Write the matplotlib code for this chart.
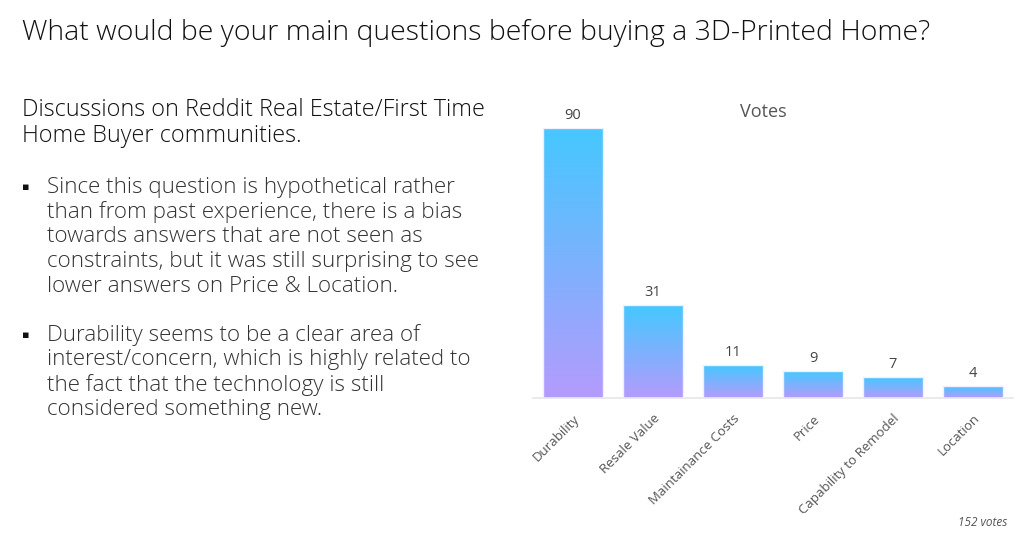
import matplotlib.pyplot as plt
import numpy as np
from matplotlib.colors import LinearSegmentedColormap

# data
categories = ['Durability', 'Resale Value', 'Maintainance Costs', 'Price',
              'Capability to Remodel', 'Location']
votes = [90, 31, 11, 9, 7, 4]
total_votes = 152

title = 'What would be your main questions before buying a 3D-Printed Home?'
intro_lines = ['Discussions on Reddit Real Estate/First Time',
               'Home Buyer communities.']
bullet1 = ['Since this question is hypothetical rather',
           'than from past experience, there is a bias',
           'towards answers that are not seen as',
           'constraints, but it was still surprising to see',
           'lower answers on Price & Location.']
bullet2 = ['Durability seems to be a clear area of',
           'interest/concern, which is highly related to',
           'the fact that the technology is still',
           'considered something new.']

plt.rcParams['font.family'] = ['Open Sans', 'DejaVu Sans']

W, H = 1024, 545
fig = plt.figure(figsize=(W / 100, H / 100), dpi=100)
fig.patch.set_facecolor('white')

def fx(px):
    return px / W

def fy(py):
    return 1 - py / H

# title and left-hand text
fig.text(fx(22), fy(33), title, fontsize=20.5, color='#111111', va='center',
         fontweight='light')
for i, line in enumerate(intro_lines):
    fig.text(fx(22), fy(110 + i * 26), line, fontsize=16.8, color='#111111',
             va='center', fontweight='light')

for start, lines in [(187, bullet1), (335, bullet2)]:
    fig.text(fx(22), fy(start), '\u25aa', fontsize=8, color='#111111',
             va='center', family='DejaVu Sans')
    for i, line in enumerate(lines):
        fig.text(fx(47), fy(start + i * 25), line, fontsize=16.1,
                 color='#333333', va='center', fontweight='light')

# chart
ax = fig.add_axes([fx(533), fy(398), fx(1013) - fx(533), 270 / H])
x = np.arange(len(categories))
bars = ax.bar(x, votes, width=0.76, color='none', edgecolor='#f2eefc',
              linewidth=1.0, zorder=3)

cmap = LinearSegmentedColormap.from_list('votes', ['#b49bfc', '#45c8ff'])
grad = np.linspace(0, 1, 256).reshape(-1, 1)
for b in bars:
    x0, w, h = b.get_x(), b.get_width(), b.get_height()
    im = ax.imshow(grad, cmap=cmap, origin='lower', aspect='auto',
                   extent=[x0, x0 + w, 0, h], zorder=2)
    im.set_clip_path(b)
    ax.text(x0 + w / 2, h + 1.8, str(h), ha='center', va='bottom',
            fontsize=10.5, color='#444444')

ax.set_xlim(-0.5, len(categories) - 0.5)
ax.set_ylim(0, 90)
for s in ['top', 'right', 'left']:
    ax.spines[s].set_visible(False)
ax.spines['bottom'].set_color('#e6e6e6')
ax.spines['bottom'].set_linewidth(1.2)
ax.set_yticks([])
ax.set_xticks(x)
ax.set_xticklabels(categories, rotation=45, ha='right', rotation_mode='anchor',
                   fontsize=9.5, color='#555555')
ax.tick_params(axis='x', length=0, pad=10)

fig.text(fx(763), fy(112), 'Votes', ha='center', va='center', fontsize=13,
         color='#555555')
fig.text(fx(1007), fy(523), f'{total_votes} votes', ha='right', va='center',
         fontsize=8.5, color='#555555', style='italic')

fig.savefig('out.png', dpi=100)
